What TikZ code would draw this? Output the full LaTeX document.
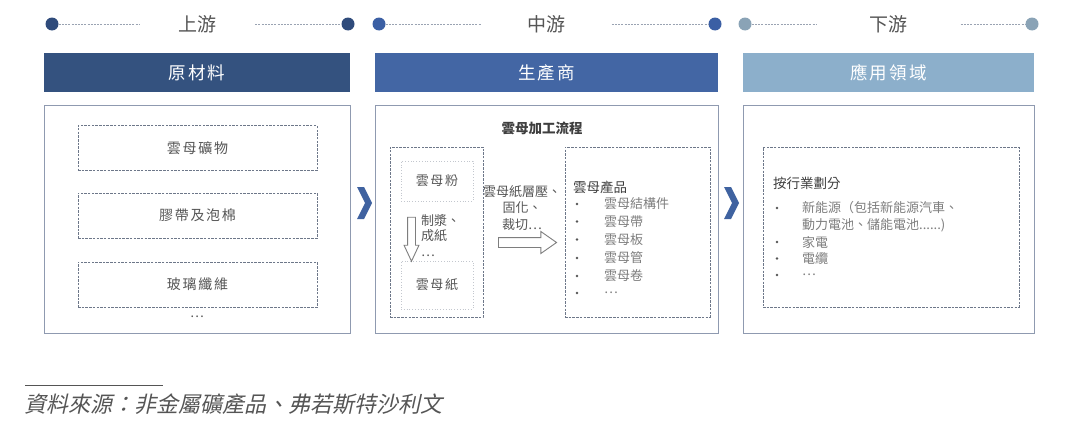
\documentclass[tikz,border=0pt]{standalone}
\usepackage{fontspec}
\setmainfont{Noto Sans CJK TC}
\newfontfamily\cjkslant[FakeSlant=0.22]{Noto Sans CJK TC}
\newfontfamily\cjkwide[LetterSpace=12]{Noto Sans CJK TC}
\usetikzlibrary{shapes.arrows}

\definecolor{upHead}{HTML}{34527F}
\definecolor{upDot}{HTML}{2F4B7B}
\definecolor{midHead}{HTML}{4366A4}
\definecolor{midDot}{HTML}{3B5FA4}
\definecolor{downHead}{HTML}{8CAFCB}
\definecolor{downDot}{HTML}{8AA3B6}
\definecolor{lineGray}{HTML}{9AA3B2}
\definecolor{panelGray}{HTML}{8F9AB0}
\definecolor{dashGray}{HTML}{6D7789}
\definecolor{dotGray}{HTML}{C3C7CE}
\definecolor{textGray}{HTML}{555555}
\definecolor{listGray}{HTML}{7E7E7E}
\definecolor{darkGray}{HTML}{3F3F3F}
\definecolor{chevBlue}{HTML}{3F62A0}

\begin{document}
\begin{tikzpicture}[x=1pt, y=-1pt,
	stagedot/.style={circle, inner sep=0pt, minimum size=13pt},
	stageline/.style={draw=lineGray, line width=0.8pt, dash pattern=on 2pt off 1.2pt},
	stagelabel/.style={text=textGray, font=\fontsize{19pt}{22pt}\selectfont, inner sep=0pt, minimum height=20pt},
	headbar/.style={text=white, font=\cjkwide\fontsize{17.5pt}{20pt}\selectfont, minimum height=39pt, inner sep=0pt},
	panel/.style={draw=panelGray, line width=0.9pt, fill=white, minimum height=228pt, inner sep=0pt},
	dashbox/.style={draw=dashGray, line width=0.9pt, dash pattern=on 2.5pt off 1.2pt, inner sep=0pt},
	dotbox/.style={draw=dotGray, line width=0.8pt, dotted, inner sep=0pt},
	boxtext/.style={text=textGray, font=\cjkwide\fontsize{14pt}{16pt}\selectfont},
	itemtext/.style={text=listGray, font=\fontsize{13pt}{16pt}\selectfont, inner sep=0pt},
	bullet/.style={circle, fill=textGray, inner sep=0pt, minimum size=2.6pt},
	hollowarrow/.style={single arrow, draw=listGray, line width=0.9pt, fill=white, inner xsep=0pt, single arrow head indent=0pt}
	]
	\useasboundingbox (0,0) rectangle (1080,423);
	
	% ---- Stages: dots, labels, header bars, panels ----
	\foreach \name/\headcol/\dotcol/\xl/\xr/\dl/\dr/\gap/\stage/\head in {
		U/upHead/upDot/44/350/52/348/116/上游/原材料,
		M/midHead/midDot/375/718/379/715/130/中游/生產商,
		D/downHead/downDot/743/1034/745/1032/144/下游/應用領域
	}
	{
		\node[stagedot, fill=\dotcol] (dotL\name) at (\dl,24) {};
		\node[stagedot, fill=\dotcol] (dotR\name) at (\dr,24) {};
		\node[stagelabel, minimum width=\gap pt] (lbl\name) at ({(\xl+\xr)/2},24) {\stage};
		\draw[stageline] (dotL\name) -- (lbl\name.west);
		\draw[stageline] (lbl\name.east) -- (dotR\name);
		\node[headbar, fill=\headcol, minimum width={(\xr-\xl)*1pt}] (head\name) at ({(\xl+\xr)/2},72.5) {\head};
		\node[panel, minimum width={(\xr-\xl)*1pt}] (panel\name) at ({(\xl+\xr)/2},219) {};
	}
	
	% ---- Chevrons between panels ----
	\foreach \cx in {357,724}
	\fill[chevBlue] (\cx,187) -- ++(7,0) -- ++(8,16) -- ++(-8,16) -- ++(-7,0) -- ++(8,-16) -- cycle;
	
	% ---- Upstream: raw materials ----
	\foreach \i/\cy/\txt in {1/148/雲母礦物, 2/215.5/膠帶及泡棉, 3/284.5/玻璃纖維}
	\node[dashbox, boxtext, minimum width=239pt, minimum height=45pt] (raw\i) at (197.5,\cy) {\txt};
	\node[text=textGray, font=\fontsize{13pt}{14pt}\selectfont, inner sep=0pt] (rawMore) at (197,317) {…};
	
	% ---- Midstream: processing flow ----
	\node[text=darkGray, font=\bfseries\fontsize{13.5pt}{16pt}\selectfont, inner sep=0pt] (procTitle) at (542,128) {雲母加工流程};
	\node[dashbox, minimum width=93pt, minimum height=170pt] (flowL) at (436.5,232) {};
	\node[dashbox, minimum width=145pt, minimum height=170pt] (flowR) at (637.5,232) {};
	\node[dotbox, boxtext, font=\cjkwide\fontsize{13pt}{16pt}\selectfont, minimum width=72pt, minimum height=40pt] (powder) at (437,181) {雲母粉};
	\node[dotbox, boxtext, font=\cjkwide\fontsize{13pt}{16pt}\selectfont, minimum width=72pt, minimum height=48pt] (paper) at (437,285) {雲母紙};
	\node[hollowarrow, rotate=-90, inner ysep=3.5pt, single arrow head extend=3.5pt, single arrow tip angle=50, minimum height=44pt] (pulpArrow) at (411.5,235) {};
	\node[itemtext, text=textGray, anchor=west, align=left, font=\fontsize{13pt}{15.5pt}\selectfont] (pulp) at (421,235.5) {制漿、\\成紙\\…};
	\node[hollowarrow, inner ysep=4.5pt, single arrow head extend=6pt, single arrow tip angle=70, minimum height=58pt] (layArrow) at (524,242.5) {};
	\node[itemtext, text=textGray, align=center, font=\fontsize{13pt}{16.5pt}\selectfont] (laminate) at (522,208) {雲母紙層壓、\\固化、\\裁切…};
	
	\node[text=darkGray, anchor=west, inner sep=0pt, font=\fontsize{13.5pt}{16pt}\selectfont] (prodHead) at (573,187) {雲母產品};
	\foreach \cy/\txt in {204/雲母結構件, 221.5/雲母帶, 239.5/雲母板, 258/雲母管, 276/雲母卷, 293/…}
	{
		\node[bullet] at (577,\cy) {};
		\node[itemtext, anchor=west] at (604,\cy) {\txt};
	}
	
	% ---- Downstream: application fields ----
	\node[dashbox, minimum width=256pt, minimum height=160pt] (fieldBox) at (891,227) {};
	\node[text=darkGray, anchor=west, inner sep=0pt, font=\fontsize{13.5pt}{16pt}\selectfont] (fieldHead) at (773,183) {按行業劃分};
	\foreach \cy/\txt in {208/新能源（包括新能源汽車、, 242/家電, 258.5/電纜, 275/…}
	{
		\node[bullet] at (777,\cy) {};
		\node[itemtext, anchor=west] at (802,\cy) {\txt};
	}
	\node[itemtext, anchor=west] (fieldCont) at (802,225.5) {動力電池、儲能電池......)};
	
	% ---- Source note ----
	\draw[textGray, line width=1pt] (25,385) -- (163,385);
	\node[anchor=west, inner sep=0pt, text=textGray, font=\cjkslant\fontsize{22pt}{24pt}\selectfont] (source) at (24,404) {資料來源：非金屬礦產品、弗若斯特沙利文};
	
\end{tikzpicture}
\end{document}
